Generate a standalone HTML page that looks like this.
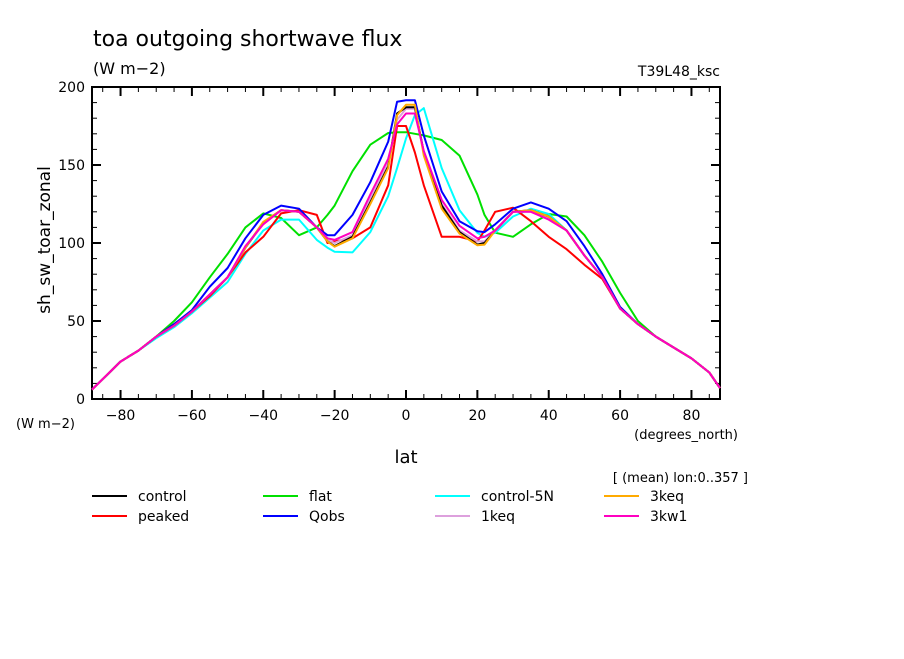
<!DOCTYPE html>
<html><head><meta charset="utf-8"><style>
body{margin:0;background:#fff;}
svg text{font-family:"DejaVu Sans","Liberation Sans",sans-serif;fill:#000;}
</style></head><body>
<svg width="904" height="654" viewBox="0 0 904 654" xmlns="http://www.w3.org/2000/svg">
<rect width="904" height="654" fill="#fff"/>
<text x="93" y="46" font-size="22">toa outgoing shortwave flux</text>
<text x="93" y="74" font-size="16">(W m−2)</text>
<text x="720" y="76" font-size="14" text-anchor="end">T39L48_ksc</text>
<g id="axes"></g>
<g id="series"></g>
<text x="50" y="240" font-size="17" text-anchor="middle" transform="rotate(-90 50 240)">sh_sw_toar_zonal</text>
<text x="16" y="428" font-size="13">(W m−2)</text>
<text x="738" y="439" font-size="13" text-anchor="end">(degrees_north)</text>
<text x="406" y="463" font-size="18" text-anchor="middle">lat</text>
<text x="748" y="482" font-size="13" text-anchor="end">[ (mean) lon:0..357 ]</text>
<g id="legend"></g>
</svg>
<script>
const lats=[-88,-80,-75,-70,-65,-60,-55,-50,-45,-40,-35,-30,-25,-22,-20,-15,-10,-5,-2.5,0,2.5,5,10,15,20,22,25,30,35,40,45,50,55,60,65,70,75,80,85,88];
const flat=[6,24,31,40,50,62,78,93,110,119,116,105,110,118,124,146,163,170.5,171,171,170,169,166,156,131,118,106.6,104,112,118.6,117,105,88,68,50,40,33,26,17,7];
const peaked=[6,24,31,40,48,56,66,78,94,104,119,121,118,100,101,103,110,137,175,175,158,137,104,104,101,108,120,122.6,114,104,96,86,77,58,48,40,33,26,17,7];
const qobs=[6,24,31,40,48,57,72,84,103,118,124,122,110,105,105,118,139,165,190.6,191.5,191.5,169,133,114,107.5,107,112,122,126,122,114,98,80,59,48,40,33,26,17,7];
const control5N=[6,24,31,39,46,55,65,75,93,108,115,115,102,97,94.4,94,107,130,148,167,182,186.5,148,121,106.5,104,106.6,117,122,118.6,108,92,78,58,48,40,33,26,17,7];
const keq3=[6,24,31,40,47,56,67,78,97,113.6,121,120,110,101,97.6,103,125,148,182,188.6,188.6,156,122,106,98.5,99,108,120,121,117,108,92,78,58,48,40,33,26,17,7];
const control=[6,24,31,40,47,56,67,78,97,113,121,120,110,101,98,104,126,149,183,187,187,158,124,107,99,100,108,120,121,117,108,92,78,58,48,40,33,26,17,7];
const keq1=[6,24,31,40,47,56,67,78,97,112.5,121,120,110,102,100,105,128,151,179,186,186,158,125,108,101,101,108,120,120,116,108,92,78,58,48,40,33,26,17,7];
const kw13=[6,24,31,40,47,56,67,78,98,112,121,120,110,103,102,107,131,154,176,183,183,159,127.6,111,103,104,108,120,120,115,108,92,78,58,48,40,33,26,17,7];
const seriesNames=["control","peaked","flat","Qobs","control-5N","1keq","3keq","3kw1"];
const seriesData=[control,peaked,flat,qobs,control5N,keq1,keq3,kw13];
const seriesColors=["#000000","#ff0000","#00e000","#0000ff","#00ffff","#dda0dd","#ffaa00","#ff00c0"];
const drawOrder=[2,4,1,3,5,0,6,7];
const xTicks=[-80,-60,-40,-20,0,20,40,60,80];
const xTickLabels=["−80","−60","−40","−20","0","20","40","60","80"];
const yTicks=[0,50,100,150,200];
const yTickLabels=["0","50","100","150","200"];

const NS="http://www.w3.org/2000/svg";
const L=92,R=720,T=87,B=399,X0=-88,X1=88,Y0=0,Y1=200;
const xs=v=>L+(v-X0)/(X1-X0)*(R-L);
const ys=v=>B-(v-Y0)/(Y1-Y0)*(B-T);
function mk(tag,attrs,parent){const e=document.createElementNS(NS,tag);for(const k in attrs)e.setAttribute(k,attrs[k]);parent.appendChild(e);return e;}
const ax=document.getElementById('axes');
const frame=mk('rect',{x:L,y:T,width:R-L,height:B-T,fill:'none',stroke:'#000','stroke-width':2},ax);


for(let v=-85;v<=85;v+=5){
  const major=v%20===0;const len=major?9:5;const x=xs(v);
  const t1=mk('line',{x1:x,x2:x,y1:B,y2:B-len,stroke:'#000','stroke-width':major?2:1},ax);
  
  
  const t2=mk('line',{x1:x,x2:x,y1:T,y2:T+len,stroke:'#000','stroke-width':major?2:1},ax);
  
  
}
xTicks.forEach((v,i)=>{
  const t=mk('text',{x:xs(v),y:B+21,'font-size':14,'text-anchor':'middle'},ax);
  t.textContent=xTickLabels[i];
  
  
});
for(let v=10;v<200;v+=10){
  const major=v%50===0;const len=major?9:5;const y=ys(v);
  const t1=mk('line',{x1:L,x2:L+len,y1:y,y2:y,stroke:'#000','stroke-width':major?2:1},ax);
  
  
  const t2=mk('line',{x1:R,x2:R-len,y1:y,y2:y,stroke:'#000','stroke-width':major?2:1},ax);
  
  
}
yTicks.forEach((v,i)=>{
  const t=mk('text',{x:L-7,y:ys(v)+5,'font-size':14,'text-anchor':'end'},ax);
  t.textContent=yTickLabels[i];
  
  
});
const sg=document.getElementById('series');
drawOrder.forEach(i=>{
  const d=seriesData[i].map((v,j)=>(j?'L':'M')+xs(lats[j]).toFixed(1)+' '+ys(v).toFixed(1)).join(' ');
  const p=mk('path',{d:d,fill:'none',stroke:seriesColors[i],'stroke-width':2,'stroke-linejoin':'round'},sg);
  
  
});
const lg=document.getElementById('legend');
const colX=[92,263,435,604];
seriesNames.forEach((n,i)=>{
  const c=Math.floor(i/2),r=i%2;const y=496+r*20;
  const ln=mk('line',{x1:colX[c],x2:colX[c]+35,y1:y,y2:y,stroke:seriesColors[i],'stroke-width':2},lg);
  
  
  const t=mk('text',{x:colX[c]+46,y:y+5,'font-size':14},lg);
  t.textContent=n;
  
  
});
</script>
</body></html>
